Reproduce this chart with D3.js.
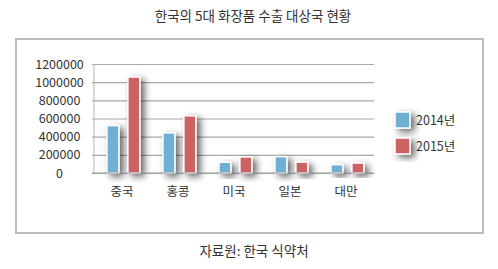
<!DOCTYPE html>
<html>
<head>
<meta charset="utf-8">
<script src="https://cdn.jsdelivr.net/npm/d3@7"></script>
<style>
  body { margin: 0; background: #fff; }
  text { font-family: "Noto Sans CJK KR", "Noto Sans", sans-serif; fill: #333; }
</style>
</head>
<body>
<div class="canvas"></div>
<script>
const categories = ['중국', '홍콩', '미국', '일본', '대만'];
const seriesNames = ['2014년', '2015년'];
const values2014 = [522000, 442000, 118000, 180000, 92000];
const values2015 = [1057000, 630000, 177000, 120000, 110000];
const yTicks = [0, 200000, 400000, 600000, 800000, 1000000, 1200000];
const colors = ['#6eb0d3', '#cc6363'];

const W = 498, H = 269;
const plot = { left: 94, right: 374, top: 64, bottom: 173 };

const svg = d3.select('.canvas').append('svg').attr('width', W).attr('height', H);

// shadow filter
const defs = svg.append('defs');
const filter = defs.append('filter').attr('id', 'shadow')
  .attr('x', '-50%').attr('y', '-50%').attr('width', '250%').attr('height', '200%');
filter.append('feDropShadow')
  .attr('dx', 4).attr('dy', 3).attr('stdDeviation', 3.5)
  .attr('flood-color', '#000').attr('flood-opacity', 0.6);

// title
svg.append('text').attr('x', 253).attr('y', 21).attr('text-anchor', 'middle')
  .style('font-size', '13.5px').text('한국의 5대 화장품 수출 대상국 현황');

// frame
svg.append('rect').attr('x', 16).attr('y', 39).attr('width', 467).attr('height', 194)
  .attr('fill', 'none').attr('stroke', '#bdbdbd').attr('stroke-width', 2);

// caption
svg.append('text').attr('x', 254).attr('y', 256).attr('text-anchor', 'middle')
  .style('font-size', '13.5px').text('자료원: 한국 식약처');

//scales
const x = d3.scaleBand().domain(categories).range([plot.left, plot.right]);
const x1 = d3.scaleBand().domain(seriesNames).range([0, x.bandwidth()])
  .paddingInner(0.43).paddingOuter(0.55).align(0.56);
const y = d3.scaleLinear().domain([0, 1200000]).range([plot.bottom, plot.top]);

//gridlines + y labels
const yAxis = d3.axisLeft(y).tickValues(yTicks)
  .tickSize(-(plot.right - plot.left) - 2).tickPadding(0).tickFormat(d3.format('d'));
const yg = svg.append('g').attr('transform', `translate(${plot.left - 2},0)`).call(yAxis);
yg.select('.domain').remove();
yg.selectAll('.tick line').attr('stroke', '#a8a8a8').attr('stroke-width', 1.2);
yg.selectAll('.tick text')
  .attr('x', 59.5 - plot.left + 2).attr('text-anchor', 'middle')
  .style('font-size', '12.5px').attr('fill', '#333');

// y axis line
svg.append('line').attr('x1', plot.left).attr('x2', plot.left)
  .attr('y1', plot.top).attr('y2', plot.bottom).attr('stroke', '#b5b5b5');

// bars
const rows = categories.map((c, i) => ({ cat: c, vals: [values2014[i], values2015[i]] }));
const groups = svg.append('g').selectAll('g').data(rows).join('g')
  .attr('transform', (d) => `translate(${x(d.cat)},0)`);
groups.selectAll('rect')
  .data((d) => d.vals.map((v, j) => ({ v, j })))
  .join('rect')
  .attr('x', (d) => x1(seriesNames[d.j]))
  .attr('y', (d) => y(d.v))
  .attr('width', x1.bandwidth())
  .attr('height', (d) => y(0) - y(d.v))
  .attr('fill', (d) => colors[d.j])
  .attr('stroke', '#fff').attr('stroke-width', 1.5)
  .attr('filter', 'url(#shadow)');

// baseline
svg.append('line').attr('x1', plot.left - 2).attr('x2', plot.right)
  .attr('y1', plot.bottom).attr('y2', plot.bottom).attr('stroke', '#999').attr('stroke-width', 1.2);

// x labels
const xAxis = d3.axisBottom(x).tickSize(0).tickPadding(0);
const xg = svg.append('g').attr('transform', `translate(0,${plot.bottom})`).call(xAxis);
xg.select('.domain').remove();
xg.selectAll('.tick text').attr('y', 23).attr('dy', 0)
  .style('font-size', '12.5px').attr('fill', '#333');

// legend
const legend = svg.append('g').selectAll('g').data(seriesNames).join('g')
  .attr('transform', (d, i) => `translate(395,${112 + i * 26})`);
legend.append('rect').attr('width', 15).attr('height', 16)
  .attr('fill', (d, i) => colors[i]).attr('stroke', '#fff').attr('stroke-width', 1.5)
  .attr('filter', 'url(#shadow)');
legend.append('text').attr('x', 21).attr('y', 12.5)
  .style('font-size', '12.5px').text((d) => d);
</script>
</body>
</html>
